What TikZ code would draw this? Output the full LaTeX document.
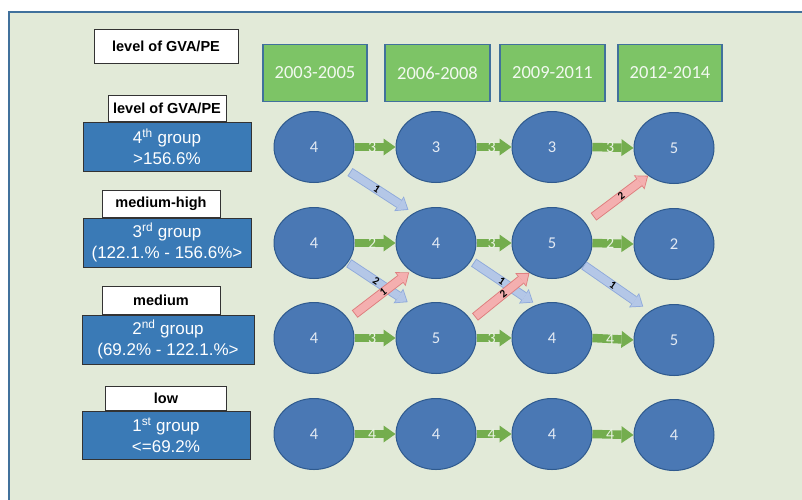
\documentclass[tikz,border=0pt]{standalone}
\usepackage{fontspec}
\setmainfont{Liberation Sans}
\newfontfamily\calfont{Carlito}
\usetikzlibrary{arrows.meta, positioning, shapes.geometric}

\definecolor{panelbg}{HTML}{E2EAD8}
\definecolor{panelline}{HTML}{41719C}
\definecolor{yeargreen}{HTML}{7DC466}
\definecolor{circblue}{HTML}{4A78B4}
\definecolor{circline}{HTML}{2F5A8E}
\definecolor{groupblue}{HTML}{3A7AB6}
\definecolor{arrgreen}{HTML}{74AD4E}
\definecolor{arrblue}{HTML}{B4C7E7}
\definecolor{arrblueline}{HTML}{8EA9DB}
\definecolor{arrpink}{HTML}{F4AFAF}
\definecolor{arrpinkline}{HTML}{DE7C7C}

\tikzset{
  tagbox/.style={draw=black!80, fill=white, line width=0.9pt, inner sep=0pt,
    font=\bfseries\fontsize{14.5}{16}\selectfont, minimum width=118pt, minimum height=26pt},
  groupbox/.style={draw=black!80, fill=groupblue, line width=0.9pt, text=white, align=center,
    inner sep=0pt, font=\fontsize{17}{21}\selectfont, minimum width=168pt, minimum height=49pt},
  yearbox/.style={draw=panelline, fill=yeargreen, line width=1.3pt, text=white!90!yeargreen,
    inner sep=0pt, font=\calfont\fontsize{18.5}{20}\selectfont, minimum width=104pt, minimum height=57pt},
  cell/.style={ellipse, draw=circline, fill=circblue, line width=1pt, inner sep=0pt,
    minimum width=80pt, minimum height=71pt, text=white!85!circblue, font=\calfont\fontsize{16.5}{18}\selectfont},
  stay/.style={draw=arrgreen, line width=8.5pt, -{Triangle[width=17pt, length=12pt, line width=0pt]}},
  staylabel/.style={pos=0.43, inner sep=0pt, text=white!85!arrgreen, font=\calfont\fontsize{16}{17}\selectfont},
  movedown/.style 2 args={draw=arrblue, line width=7.6pt, shorten <=#1+0.9pt, shorten >=#2+1.4pt,
    -{Triangle[width=14.5pt, length=9pt, line width=0pt]},
    preaction={draw=arrblueline, line width=9.4pt, shorten <=#1, shorten >=#2,
      -{Triangle[width=17.5pt, length=11.2pt, line width=0pt]}}},
  moveup/.style 2 args={draw=arrpink, line width=7.6pt, shorten <=#1+0.9pt, shorten >=#2+1.4pt,
    -{Triangle[width=14.5pt, length=9pt, line width=0pt]},
    preaction={draw=arrpinkline, line width=9.4pt, shorten <=#1, shorten >=#2,
      -{Triangle[width=17.5pt, length=11.2pt, line width=0pt]}}},
  flowdigit/.style={sloped, inner sep=0pt, text=black, font=\calfont\bfseries\fontsize{11}{12}\selectfont},
}

\begin{document}
\begin{tikzpicture}[x=1pt, y=-1pt]

  % panel
  \useasboundingbox (0,0) rectangle (802,499);
  \clip (0,0) rectangle (802,499);
  \draw[draw=panelline, line width=2pt, fill=panelbg] (9,12) rectangle (830,530);

  % legend on the left
  \node[tagbox, minimum width=144pt, minimum height=34pt] (hdr) at (166,46) {level of GVA/PE};

  \node[groupbox] (g4) at (167,146.5) {4\textsuperscript{th} group\\>156.6\%};
  \node[groupbox] (g3) at (167,242.5) {3\textsuperscript{rd} group\\(122.1.\% - 156.6\%>};
  \node[groupbox, minimum width=172pt] (g2) at (168,339.5) {2\textsuperscript{nd} group\\(69.2\% - 122.1.\%>};
  \node[groupbox, minimum height=48pt] (g1) at (166,435) {1\textsuperscript{st} group\\<=69.2\%};

  \node[tagbox, above=0pt of g4] (t4) {level of GVA/PE};
  \node[tagbox, above=0pt of g3, xshift=-6pt, minimum height=27pt] (t3) {medium-high};
  \node[tagbox, above=0pt of g2, xshift=-7pt, minimum height=28pt] (t2) {medium};
  \node[tagbox, above=0pt of g1, minimum width=121pt, minimum height=24pt] (t1) {low};

  % periods
  \node[yearbox] (y1) at (315,73) {2003-2005};
  \node[yearbox, minimum width=105pt] (y2) at (437.5,73) {2006-2008};
  \node[yearbox, minimum width=105pt] (y3) at (552.5,73) {2009-2011};
  \node[yearbox] (y4) at (670,73) {2012-2014};

  % regions per group and period
  \node[cell] (c41) at (314,147) {4};
  \node[cell] (c42) at (436,147) {3};
  \node[cell] (c43) at (552,147) {3};
  \node[cell] (c44) at (674,148) {5};

  \node[cell] (c31) at (314,243) {4};
  \node[cell] (c32) at (436,243) {4};
  \node[cell] (c33) at (552,243) {5};
  \node[cell] (c34) at (674,244) {2};

  \node[cell] (c21) at (314,338) {4};
  \node[cell] (c22) at (436,338) {5};
  \node[cell] (c23) at (552,338) {4};
  \node[cell] (c24) at (674,340) {5};

  \node[cell] (c11) at (314,434) {4};
  \node[cell] (c12) at (436,434) {4};
  \node[cell] (c13) at (552,434) {4};
  \node[cell] (c14) at (674,435) {4};

  % staying in the group
  \draw[stay] (c41.east) -- node[staylabel]{3} (c42.west);
  \draw[stay] (c42.east) -- node[staylabel]{3} (c43.west);
  \draw[stay] (c43.east) -- node[staylabel]{3} (c44.west);
  \draw[stay] (c31.east) -- node[staylabel]{2} (c32.west);
  \draw[stay] (c32.east) -- node[staylabel]{3} (c33.west);
  \draw[stay] (c33.east) -- node[staylabel]{2} (c34.west);
  \draw[stay] (c21.east) -- node[staylabel]{3} (c22.west);
  \draw[stay] (c22.east) -- node[staylabel]{3} (c23.west);
  \draw[stay] (c23.east) -- node[staylabel]{4} (c24.west);
  \draw[stay] (c11.east) -- node[staylabel]{4} (c12.west);
  \draw[stay] (c12.east) -- node[staylabel]{4} (c13.west);
  \draw[stay] (c13.east) -- node[staylabel]{4} (c14.west);

  % moving down and up
  \draw[movedown={5pt}{6pt}] (c41.-35) -- node[flowdigit, pos=0.46]{1} (c32.127);
  \draw[movedown={1pt}{9pt}] (c31.-30) -- node[flowdigit, pos=0.42]{2} (c22.124);
  \draw[moveup={8pt}{2pt}] (c21.29) -- node[flowdigit, pos=0.56]{1} (c32.-132);
  \draw[movedown={3pt}{4pt}] (c32.-27) -- node[flowdigit, pos=0.47]{1} (c23.115);
  \draw[moveup={5pt}{0pt}] (c22.27) -- node[flowdigit, pos=0.55]{2} (c33.-127);
  \draw[moveup={10pt}{0pt}] (c33.31) -- node[flowdigit, pos=0.57]{2} (c44.-133);
  \draw[movedown={0pt}{8pt}] (c33.-35) -- node[flowdigit, pos=0.44]{1} (c24.130);

\end{tikzpicture}
\end{document}
